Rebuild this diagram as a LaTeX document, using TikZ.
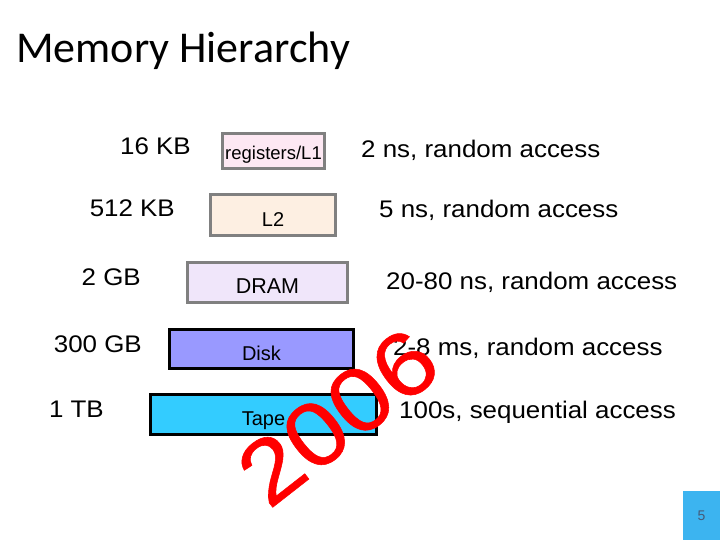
\documentclass[tikz,border=0pt]{standalone}
\usepackage{fontspec}
\setmainfont{Liberation Sans}
\newfontfamily\titlefont{Carlito}
\newfontfamily\widefont[FakeStretch=1.08]{Liberation Sans}
\newfontfamily\yearfont[FakeBold=0.6, FakeStretch=1.12]{Liberation Sans}
\usetikzlibrary{positioning}
\definecolor{regpink}{RGB}{253,232,243}
\definecolor{ltwopeach}{RGB}{253,239,226}
\definecolor{dramlilac}{RGB}{240,230,250}
\definecolor{diskblue}{RGB}{153,153,255}
\definecolor{tapecyan}{RGB}{51,204,255}
\definecolor{framegray}{RGB}{128,128,128}
\definecolor{slideblue}{RGB}{60,180,240}
\definecolor{pagegray}{RGB}{70,90,120}

\begin{document}
\begin{tikzpicture}[x=1pt, y=-1pt,
  level/.style={rectangle, line width=3pt, inner sep=0pt, align=center, font=\fontsize{20}{24}\selectfont, text height=22pt, text depth=0pt},
  sizelbl/.style={anchor=base east, inner sep=0pt, font=\widefont\fontsize{24}{28}\selectfont},
  latlbl/.style={anchor=base west, inner sep=0pt, font=\widefont\fontsize{24}{28}\selectfont},
]
  \useasboundingbox (0,0) rectangle (720,540);

  \node[anchor=base west, inner sep=0pt, font=\titlefont\fontsize{44}{50}\selectfont] (title) at (16,63) {Memory Hierarchy};

  % the levels, fastest on top
  \node[level, draw=framegray, fill=regpink, minimum width=102pt, minimum height=35pt, font=\fontsize{18.5}{22}\selectfont, text height=18pt] (regs) at (273.5,151) {registers/L1};
  \node[level, draw=framegray, fill=ltwopeach, minimum width=125pt, minimum height=41pt] (ltwo) at (273,215) {L2};
  \node[level, draw=framegray, fill=dramlilac, minimum width=160pt, minimum height=40pt, font=\fontsize{21.5}{24}\selectfont] (dram) at (267.5,282.5) {DRAM};
  \node[level, draw=black, fill=diskblue, minimum width=184pt, minimum height=39pt] (disk) at (261.5,349) {Disk};
  \node[level, draw=black, fill=tapecyan, minimum width=226pt, minimum height=40pt] (tape) at (263.5,414.5) {Tape};

  \node[sizelbl] (szregs) at (191,155) {16 KB};
  \node[sizelbl] (szltwo) at (175,217) {512 KB};
  \node[sizelbl] (szdram) at (141,285) {2 GB};
  \node[sizelbl] (szdisk) at (142,352) {300 GB};
  \node[sizelbl] (sztape) at (104,417) {1 TB};

  \node[latlbl] (latregs) at (361,158) {2 ns, random access};
  \node[latlbl] (latltwo) at (379,218) {5 ns, random access};
  \node[latlbl] (latdram) at (386,289) {20-80 ns, random access};
  \node[latlbl] (latdisk) at (393,355) {2-8 ms, random access};
  \node[latlbl] (lattape) at (399,418) {100s, sequential access};

  \node[red, rotate=38, inner sep=0pt, font=\yearfont\fontsize{90}{94}\selectfont] (year) at (338,417) {2006};

  \node[fill=slideblue, minimum width=37pt, minimum height=49pt, inner sep=0pt, text=pagegray, font=\fontsize{14}{16}\selectfont] (pagenum) at (701.5,515.5) {5};
\end{tikzpicture}
\end{document}
